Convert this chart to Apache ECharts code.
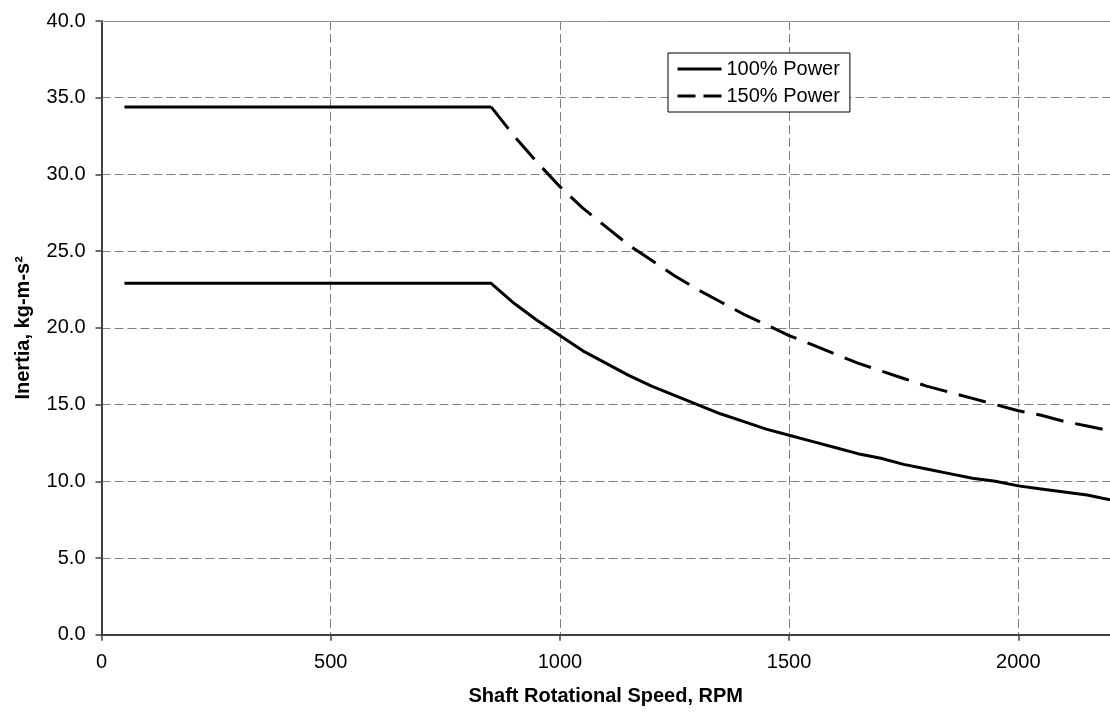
<!DOCTYPE html>
<html>
<head>
<meta charset="utf-8">
<title>Inertia vs Shaft Speed</title>
<script src="https://cdn.jsdelivr.net/npm/echarts@6/dist/echarts.min.js"></script>
<style>
  html, body { margin: 0; padding: 0; background: #fff; overflow: hidden; }
  #chart { width: 1110px; height: 713px; }
</style>
</head>
<body>
<div id="chart"></div>
<script>
// Shaft speed, RPM (flat region, then the decline)
const speedRpm = [50, 850, 900, 950, 1000, 1050, 1100, 1150, 1200, 1250, 1300, 1350, 1400, 1450,
  1500, 1550, 1600, 1650, 1700, 1750, 1800, 1850, 1900, 1950, 2000, 2050, 2100, 2150, 2200];

// Inertia, kg-m-s^2
const inertia100 = [22.9, 22.9, 21.6, 20.5, 19.5, 18.5, 17.7, 16.9, 16.2, 15.6, 15.0, 14.4, 13.9, 13.4,
  13.0, 12.6, 12.2, 11.8, 11.5, 11.1, 10.8, 10.5, 10.2, 10.0, 9.7, 9.5, 9.3, 9.1, 8.8];
const inertia150 = [34.4, 34.4, 32.5, 30.8, 29.2, 27.8, 26.6, 25.4, 24.4, 23.4, 22.5, 21.7, 20.9, 20.2,
  19.5, 18.9, 18.3, 17.7, 17.2, 16.7, 16.2, 15.8, 15.4, 15.0, 14.6, 14.3, 13.9, 13.6, 13.3];

const seriesNames = ['100% Power', '150% Power'];

const pairs = (xs, ys) => xs.map((x, i) => [x, ys[i]]);

const chart = echarts.init(document.getElementById('chart'));

const fontFamily = 'Liberation Sans, Arial, sans-serif';
const gridLine = { show: true, lineStyle: { color: '#808080', type: [9, 4], width: 1 } };

chart.setOption({
  animation: false,
  backgroundColor: '#fff',
  textStyle: { fontFamily: fontFamily, color: '#000' },
  grid: { left: 101.5, right: -5, top: 21, bottom: 78.3, containLabel: false },
  legend: {
    data: [
      { name: seriesNames[0], lineStyle: { type: 'solid', width: 3 } },
      { name: seriesNames[1], lineStyle: { type: [18, 8], width: 3 } }
    ],
    orient: 'vertical',
    left: 668,
    top: 53,
    backgroundColor: '#fff',
    borderColor: '#000',
    borderWidth: 1,
    padding: [6, 10, 6, 8],
    itemGap: 7,
    itemWidth: 44,
    itemHeight: 14,
    itemStyle: { color: 'transparent', borderWidth: 0, opacity: 0 },
    textStyle: { fontSize: 20, color: '#000', fontFamily: fontFamily }
  },
  xAxis: [{
    type: 'value',
    min: 0,
    max: 2200,
    interval: 500,
    name: 'Shaft Rotational Speed, RPM',
    nameLocation: 'middle',
    nameGap: 52,
    nameTextStyle: { fontSize: 20, fontWeight: 'bold', color: '#000' },
    axisLine: { show: true, lineStyle: { color: '#404040', width: 2 } },
    axisTick: { show: true, length: 6, lineStyle: { color: '#404040', width: 1.5 } },
    axisLabel: { fontSize: 20, color: '#000', margin: 18, showMaxLabel: false, formatter: v => String(v) },
    splitLine: gridLine
  }, {
    // plot area top border
    type: 'value',
    position: 'top',
    min: 0,
    max: 2200,
    axisLine: { show: true, lineStyle: { color: '#909090', width: 1 } },
    axisTick: { show: false },
    axisLabel: { show: false },
    splitLine: { show: false }
  }],
  yAxis: {
    type: 'value',
    min: 0,
    max: 40,
    interval: 5,
    name: 'Inertia, kg-m-s²',
    nameLocation: 'middle',
    nameRotate: 90,
    nameGap: 68,
    nameTextStyle: { fontSize: 20, fontWeight: 'bold', color: '#000' },
    axisLine: { show: true, lineStyle: { color: '#404040', width: 2 } },
    axisTick: { show: true, length: 6, lineStyle: { color: '#404040', width: 1.5 } },
    axisLabel: { fontSize: 20, color: '#000', margin: 16, formatter: v => v.toFixed(1) },
    splitLine: gridLine
  },
  series: [{
    name: seriesNames[0],
    type: 'line',
    symbol: 'none',
    data: pairs(speedRpm, inertia100),
    lineStyle: { color: '#000', width: 3 },
    itemStyle: { color: '#000' },
    z: 3
  }, {
    name: seriesNames[1],
    type: 'line',
    symbol: 'none',
    data: pairs(speedRpm.slice(1), inertia150.slice(1)),
    lineStyle: { color: '#000', width: 3, type: [28, 12] },
    itemStyle: { color: '#000' },
    z: 3
  }, {
    // flat part of the 150% curve is drawn solid in the original
    name: 'flat150',
    type: 'line',
    symbol: 'none',
    data: pairs(speedRpm.slice(0, 2), inertia150.slice(0, 2)),
    lineStyle: { color: '#000', width: 3 },
    z: 3
  }]
});
</script>
</body>
</html>
